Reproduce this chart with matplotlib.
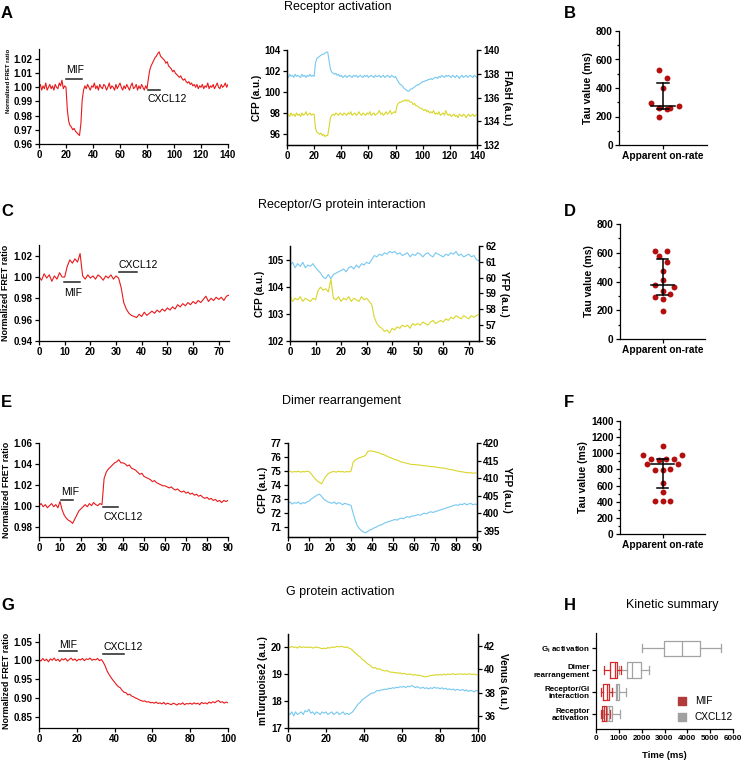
import numpy as np
import matplotlib
matplotlib.use('Agg')
import matplotlib.pyplot as plt
from matplotlib.ticker import MultipleLocator

plt.rcParams['font.family'] = ['Liberation Sans', 'DejaVu Sans']

# ---------------- data (1 s sampling) ----------------
# A: receptor activation
a_fret = [1.000, 1.002, 0.998, 1.001, 0.999, 1.003, 0.998, 1.000, 1.002, 0.999,
          1.001, 0.998, 1.002, 1.000, 0.999, 1.003, 1.001, 1.005, 0.999, 1.001,
          1.000, 0.984, 0.976, 0.973, 0.972, 0.970, 0.971, 0.969, 0.968, 0.967,
          0.966, 0.974, 0.991, 0.998, 1.001, 0.999, 1.002, 1.000, 0.998, 1.001,
          1.000, 1.003, 0.999, 1.001, 0.998, 1.002, 1.000, 0.999, 1.002, 1.001,
          0.998, 1.000, 1.003, 0.999, 1.001, 1.000, 0.998, 1.002, 0.999, 1.001,
          1.003, 1.000, 0.998, 1.001, 0.999, 1.002, 1.000, 0.998, 1.001, 1.003,
          0.999, 1.000, 1.002, 0.998, 1.001, 0.999, 1.002, 1.000, 0.998, 1.001,
          0.999, 1.006, 1.012, 1.015, 1.017, 1.019, 1.021, 1.022, 1.024, 1.025,
          1.022, 1.021, 1.020, 1.019, 1.017, 1.018, 1.015, 1.014, 1.013, 1.011,
          1.012, 1.010, 1.009, 1.008, 1.007, 1.008, 1.006, 1.005, 1.006, 1.004,
          1.003, 1.004, 1.002, 1.003, 1.001, 1.002, 1.000, 1.002, 0.999, 1.001,
          1.000, 1.002, 0.999, 1.001, 1.000, 1.003, 0.999, 1.001, 1.000, 1.002,
          0.999, 1.001, 1.003, 1.000, 0.999, 1.002, 1.000, 1.001, 1.003, 1.000,
          1.002]
a_cfp = [101.6, 101.4, 101.7, 101.5, 101.6, 101.4, 101.7, 101.5, 101.6, 101.5,
         101.4, 101.7, 101.5, 101.6, 101.4, 101.6, 101.5, 101.7, 101.5, 101.6,
         101.5, 102.8, 103.2, 103.3, 103.4, 103.5, 103.6, 103.6, 103.7, 103.8,
         103.8, 103.0, 102.2, 101.9, 101.8, 101.7, 101.8, 101.6, 101.7, 101.5,
         101.6, 101.4, 101.5, 101.6, 101.4, 101.5, 101.6, 101.5, 101.4, 101.6,
         101.5, 101.6, 101.4, 101.5, 101.6, 101.5, 101.4, 101.6, 101.5, 101.6,
         101.4, 101.5, 101.6, 101.5, 101.4, 101.6, 101.5, 101.5, 101.6, 101.4,
         101.5, 101.6, 101.4, 101.5, 101.6, 101.5, 101.4, 101.6, 101.5, 101.4,
         101.5, 101.2, 101.0, 100.8, 100.7, 100.6, 100.4, 100.3, 100.2, 100.1,
         100.1, 100.3, 100.3, 100.4, 100.5, 100.6, 100.7, 100.7, 100.8, 100.9,
         101.0, 101.0, 101.1, 101.1, 101.2, 101.2, 101.3, 101.2, 101.3, 101.4,
         101.4, 101.3, 101.5, 101.4, 101.6, 101.5, 101.4, 101.6, 101.5, 101.6,
         101.5, 101.4, 101.6, 101.5, 101.4, 101.6, 101.5, 101.3, 101.5, 101.6,
         101.4, 101.5, 101.6, 101.4, 101.5, 101.6, 101.5, 101.4, 101.6, 101.5,
         101.4]
a_flash = [134.3, 134.6, 134.4, 134.7, 134.5, 134.6, 134.4, 134.7, 134.5, 134.6,
           134.4, 134.7, 134.5, 134.6, 134.8, 134.5, 134.6, 134.7, 134.5, 134.6,
           134.6, 133.4, 133.1, 133.0, 132.9, 133.0, 132.8, 132.9, 132.7, 132.8,
           132.8, 133.5, 134.3, 134.5, 134.6, 134.5, 134.7, 134.6, 134.5, 134.7,
           134.6, 134.5, 134.7, 134.6, 134.5, 134.7, 134.6, 134.8, 134.5, 134.6,
           134.7, 134.5, 134.6, 134.8, 134.6, 134.5, 134.7, 134.6, 134.5, 134.7,
           134.6, 134.8, 134.5, 134.6, 134.7, 134.5, 134.6, 134.7, 134.9, 134.6,
           134.7, 134.5, 134.6, 134.8, 134.6, 134.7, 134.9, 134.6, 134.7, 134.8,
           134.7, 135.3, 135.5, 135.6, 135.6, 135.7, 135.7, 135.8, 135.7, 135.8,
           135.7, 135.6, 135.6, 135.4, 135.5, 135.3, 135.3, 135.2, 135.1, 135.1,
           135.0, 134.9, 135.0, 134.8, 134.9, 134.7, 134.8, 134.7, 134.9, 134.6,
           134.7, 134.6, 134.8, 134.5, 134.6, 134.7, 134.5, 134.9, 134.6, 134.5,
           134.6, 134.4, 134.5, 134.6, 134.4, 134.5, 134.3, 134.6, 134.5, 134.4,
           134.6, 134.5, 134.3, 134.5, 134.6, 134.4, 134.5, 134.6, 134.4, 134.5,
           134.6]

# C: receptor / G protein interaction
c_fret = [1.000, 0.997, 1.003, 0.999, 1.002, 0.996, 1.001, 0.998, 1.004, 1.000,
          1.000, 1.010, 1.016, 1.013, 1.017, 1.014, 1.022, 1.001, 0.998, 1.002,
          0.999, 1.001, 0.998, 1.002, 1.000, 0.997, 1.001, 0.999, 1.002, 0.998,
          1.001, 0.999, 0.990, 0.976, 0.970, 0.966, 0.964, 0.963, 0.962, 0.965,
          0.963, 0.967, 0.964, 0.966, 0.968, 0.966, 0.969, 0.967, 0.970, 0.968,
          0.971, 0.969, 0.972, 0.970, 0.974, 0.972, 0.975, 0.973, 0.976, 0.974,
          0.977, 0.975, 0.978, 0.976, 0.979, 0.982, 0.977, 0.980, 0.978, 0.981,
          0.979, 0.981, 0.978, 0.982, 0.983]
c_cfp = [104.8, 104.9, 104.7, 104.85, 104.75, 104.9, 104.7, 104.8, 104.75, 104.85,
         104.7, 104.6, 104.5, 104.35, 104.3, 104.45, 104.3, 104.45, 104.5, 104.55,
         104.6, 104.65, 104.55, 104.7, 104.75, 104.65, 104.8, 104.7, 104.85, 104.8,
         104.9, 104.85, 105.0, 105.15, 105.1, 105.2, 105.15, 105.25, 105.2, 105.3,
         105.25, 105.3, 105.2, 105.25, 105.15, 105.2, 105.25, 105.1, 105.2, 105.15,
         105.25, 105.2, 105.1, 105.2, 105.25, 105.15, 105.1, 105.25, 105.2, 105.15,
         105.1, 105.2, 105.15, 105.25, 105.2, 105.3, 105.15, 105.2, 105.1, 105.15,
         105.2, 105.1, 105.15, 105.0, 104.95]
c_yfp = [58.9, 58.5, 58.7, 58.6, 58.8, 58.5, 58.7, 58.6, 58.5, 58.7,
         58.6, 59.2, 59.4, 59.2, 59.3, 59.1, 59.9, 58.7, 58.6, 58.8,
         58.5, 58.7, 58.6, 58.8, 58.5, 58.7, 58.6, 58.5, 58.8, 58.6,
         58.7, 58.5, 58.3, 57.5, 57.1, 56.9, 56.8, 56.6, 56.7, 56.5,
         56.8, 56.7, 56.9, 56.8, 57.0, 56.9, 57.0, 56.8, 57.1, 57.0,
         57.1, 57.0, 57.2, 57.1, 57.0, 57.2, 57.3, 57.1, 57.2, 57.3,
         57.2, 57.4, 57.3, 57.5, 57.4, 57.6, 57.5, 57.4, 57.6, 57.5,
         57.4, 57.6, 57.5, 57.6, 57.7]

# E: dimer rearrangement
e_fret = [1.000, 1.002, 0.999, 1.001, 0.998, 1.000, 1.002, 0.999, 1.001, 0.998,
          1.004, 0.996, 0.991, 0.988, 0.986, 0.985, 0.983, 0.987, 0.991, 0.995,
          0.997, 0.999, 1.001, 0.999, 1.002, 1.000, 1.003, 1.001, 1.000, 1.002,
          1.001, 1.026, 1.032, 1.035, 1.037, 1.039, 1.041, 1.042, 1.044, 1.041,
          1.041, 1.040, 1.038, 1.039, 1.036, 1.035, 1.034, 1.032, 1.030, 1.031,
          1.028, 1.027, 1.026, 1.025, 1.023, 1.024, 1.022, 1.021, 1.020, 1.019,
          1.019, 1.018, 1.017, 1.018, 1.016, 1.015, 1.016, 1.014, 1.013, 1.014,
          1.012, 1.013, 1.011, 1.012, 1.010, 1.011, 1.009, 1.010, 1.008, 1.007,
          1.008, 1.006, 1.007, 1.005, 1.006, 1.004, 1.005, 1.003, 1.005, 1.004,
          1.005]
e_cfp = [72.7, 72.8, 72.65, 72.75, 72.7, 72.8, 72.65, 72.75, 72.7, 72.8,
         72.85, 73.0, 73.1, 73.2, 73.3, 73.35, 73.2, 73.0, 72.9, 72.8,
         72.75, 72.7, 72.8, 72.65, 72.75, 72.7, 72.6, 72.7, 72.65, 72.6,
         72.55, 72.0, 71.5, 71.1, 70.9, 70.75, 70.65, 70.6, 70.7, 70.8,
         70.85, 70.95, 71.0, 71.1, 71.15, 71.2, 71.3, 71.35, 71.4, 71.45,
         71.5, 71.55, 71.5, 71.6, 71.65, 71.6, 71.7, 71.75, 71.7, 71.8,
         71.8, 71.85, 71.9, 71.85, 71.95, 72.0, 71.95, 72.05, 72.1, 72.05,
         72.1, 72.15, 72.2, 72.25, 72.3, 72.35, 72.4, 72.45, 72.5, 72.55,
         72.6, 72.55, 72.65, 72.6, 72.7, 72.6, 72.65, 72.7, 72.6, 72.65,
         72.6]
e_yfp = [411.8, 412.0, 411.7, 411.9, 411.8, 412.0, 411.7, 411.9, 411.8, 412.0,
         411.9, 411.3, 410.5, 409.8, 409.2, 408.8, 408.4, 409.5, 410.5, 411.2,
         411.6, 411.8, 411.9, 411.7, 412.0, 411.8, 411.9, 411.7, 411.9, 411.8,
         412.0, 414.5, 415.2, 415.5, 415.8, 416.0, 416.2, 416.5, 417.6, 417.8,
         417.7, 417.6, 417.4, 417.3, 417.0, 416.8, 416.6, 416.3, 416.0, 415.8,
         415.5, 415.3, 415.1, 414.9, 414.6, 414.5, 414.3, 414.2, 414.0, 413.9,
         413.9, 413.8, 413.8, 413.7, 413.6, 413.5, 413.5, 413.4, 413.3, 413.3,
         413.2, 413.1, 413.0, 412.9, 412.9, 412.8, 412.6, 412.5, 412.4, 412.3,
         412.1, 412.0, 411.9, 411.8, 411.7, 411.6, 411.5, 411.6, 411.4, 411.5,
         411.5]

# G: G protein activation
g_fret = [1.002, 0.998, 1.005, 0.999, 1.003, 0.996, 1.004, 1.000, 1.006, 0.999,
          1.003, 0.997, 1.004, 1.001, 1.005, 0.998, 1.002, 1.006, 1.000, 1.004,
          0.998, 1.003, 1.001, 1.005, 0.999, 1.004, 1.002, 1.006, 1.000, 1.003,
          1.001, 1.005, 0.999, 1.002, 0.995, 0.985, 0.972, 0.963, 0.955, 0.948,
          0.942, 0.935, 0.930, 0.927, 0.920, 0.915, 0.914, 0.908, 0.910, 0.905,
          0.903, 0.900, 0.898, 0.895, 0.893, 0.891, 0.892, 0.889, 0.890, 0.887,
          0.888, 0.886, 0.889, 0.885, 0.887, 0.884, 0.888, 0.883, 0.886, 0.884,
          0.882, 0.886, 0.884, 0.881, 0.885, 0.883, 0.887, 0.882, 0.885, 0.884,
          0.886, 0.883, 0.887, 0.884, 0.886, 0.882, 0.888, 0.885, 0.887, 0.884,
          0.889, 0.886, 0.890, 0.887, 0.891, 0.893, 0.888, 0.890, 0.886, 0.889,
          0.887]
g_turq = [17.55, 17.5, 17.6, 17.45, 17.6, 17.5, 17.55, 17.6, 17.5, 17.65,
          17.6, 17.7, 17.55, 17.6, 17.5, 17.6, 17.55, 17.5, 17.6, 17.55,
          17.6, 17.5, 17.55, 17.6, 17.5, 17.55, 17.6, 17.5, 17.55, 17.6,
          17.5, 17.55, 17.5, 17.55, 17.6, 17.7, 17.8, 17.9, 17.95, 18.05,
          18.1, 18.15, 18.2, 18.25, 18.3, 18.3, 18.35, 18.4, 18.38, 18.42,
          18.42, 18.45, 18.43, 18.48, 18.46, 18.5, 18.48, 18.52, 18.5, 18.54,
          18.52, 18.55, 18.5, 18.56, 18.53, 18.58, 18.55, 18.5, 18.54, 18.5,
          18.48, 18.52, 18.47, 18.5, 18.45, 18.5, 18.47, 18.52, 18.48, 18.5,
          18.46, 18.5, 18.45, 18.48, 18.43, 18.46, 18.42, 18.45, 18.4, 18.44,
          18.42, 18.4, 18.44, 18.38, 18.42, 18.36, 18.4, 18.38, 18.35, 18.4,
          18.38]
g_venus = [41.9, 41.85, 41.95, 41.85, 41.9, 41.8, 41.95, 41.85, 41.9, 41.85,
           41.9, 41.85, 41.9, 41.8, 41.85, 41.9, 41.85, 41.8, 41.75, 41.8,
           41.75, 41.85, 41.8, 41.9, 41.85, 41.9, 41.95, 41.9, 41.95, 41.9,
           41.85, 41.9, 41.8, 41.75, 41.6, 41.45, 41.3, 41.15, 41.05, 40.85,
           40.75, 40.6, 40.45, 40.35, 40.2, 40.1, 40.15, 40.0, 40.05, 39.95,
           39.9, 39.85, 39.9, 39.8, 39.75, 39.75, 39.7, 39.72, 39.65, 39.7,
           39.6, 39.65, 39.6, 39.55, 39.6, 39.55, 39.5, 39.55, 39.48, 39.5,
           39.45, 39.4, 39.35, 39.38, 39.42, 39.45, 39.5, 39.48, 39.55, 39.5,
           39.55, 39.5, 39.58, 39.52, 39.6, 39.55, 39.58, 39.62, 39.55, 39.6,
           39.58, 39.62, 39.56, 39.6, 39.55, 39.62, 39.58, 39.55, 39.6, 39.52,
           39.55]

# stimulus application windows (s) and bar heights
a_mif, a_cxcl = (20, 31.6, 1.006), (80.5, 89.9, 0.998)
c_mif, c_cxcl = (9.9, 15.9, 0.995), (31.1, 38.0, 1.0048)
e_mif, e_cxcl = (10.3, 16.1, 1.0059), (30.7, 37.4, 0.9988)
g_mif, g_cxcl = (10.6, 19.9, 1.026), (34.0, 45.0, 1.016)

# tau values (ms)
b_tau = [525, 469, 403, 296, 273, 263, 252, 258, 193]
b_jit = [-0.09, 0.09, 0.0, -0.28, 0.36, -0.09, 0.09, 0.17, -0.09]
b_med, b_q1, b_q3 = 273, 255, 438
d_tau = [610, 610, 575, 536, 476, 408, 378, 362, 336, 313, 292, 278, 197]
d_jit = [-0.17, 0.10, -0.09, 0.10, 0.0, 0.0, -0.17, 0.27, 0.0, 0.17, -0.17, 0.0, 0.0]
d_med, d_q1, d_q3 = 378, 304, 555
f_tau = [1091, 984, 984, 930, 930, 918, 926, 864, 864, 791, 791, 800, 630, 519, 408, 403, 408]
f_jit = [0.0, -0.45, 0.45, -0.28, 0.27, -0.09, 0.08, -0.36, 0.36, -0.18, 0.0, 0.17, 0.0, 0.0, -0.18, 0.0, 0.17]
f_med, f_q1, f_q3 = 864, 576, 930

# kinetic summary (ms): whislo, q1, med, q3, whishi
h_cats = ['Receptor\nactivation', 'Receptor/Gi\ninteraction', 'Dimer\nrearrangement',
          r'G$_\mathregular{i}$ activation']
h_mif = [[213, 284, 370, 440, 610], [213, 326, 470, 580, 680], [369, 600, 850, 910, 1106], None]
h_cxcl = [[326, 468, 567, 680, 1035], [680, 865, 936, 1007, 1320], [1000, 1350, 1575, 1960, 2312],
          [2028, 2993, 3773, 4553, 5475]]

RED = '#e8191b'
BLUE = '#77c8f0'
YEL = '#d8d62a'
W, H = 744, 763
TICK = 7


def pos(x0, y0, x1, y1):
    return [x0 / W, 1 - y1 / H, (x1 - x0) / W, (y1 - y0) / H]


def style(ax, right=False, size=TICK):
    ax.spines['top'].set_visible(False)
    if not right:
        ax.spines['right'].set_visible(False)
    for s in ax.spines.values():
        s.set_linewidth(0.9)
    ax.tick_params(length=3, width=0.9, labelsize=size, pad=1.5)
    for lab in ax.get_xticklabels() + ax.get_yticklabels():
        lab.set_fontweight('bold')


def fret_panel(rect, y, xmax, xstep, ylim, yticks, mif, cxcl, mif_txt, cxcl_txt, lab_size=6.4, lab_y=0.5):
    ax = fig.add_axes(pos(*rect))
    t = np.arange(len(y))
    ax.plot(t, y, color=RED, lw=0.8)
    ax.set_xlim(0, xmax)
    ax.set_xticks(np.arange(0, xmax + 1, xstep))
    ax.set_ylim(*ylim)
    ax.set_yticks(yticks)
    ax.set_yticklabels(['%.2f' % v for v in yticks])
    ax.set_ylabel('Normalized FRET ratio', fontsize=lab_size, fontweight='bold')
    ax.yaxis.set_label_coords(-0.15, lab_y)
    for t0, t1, yb in (mif, cxcl):
        ax.plot([t0, t1], [yb, yb], color='#222222', lw=1.1)
    ax.text(mif[0], mif_txt[1], mif_txt[0], fontsize=7.5, va='center')
    ax.text(cxcl[0], cxcl_txt[1], cxcl_txt[0], fontsize=7.5, va='center')
    style(ax)
    return ax


def dual_panel(rect, y1, y2, xmax, xstep, ylim1, yt1, ylim2, yt2, lab1, lab2, c1, c2):
    ax = fig.add_axes(pos(*rect))
    t = np.arange(len(y1))
    ax.plot(t, y1, color=c1, lw=0.8)
    ax.set_xlim(0, xmax)
    ax.set_xticks(np.arange(0, xmax + 1, xstep))
    ax.set_ylim(*ylim1)
    ax.set_yticks(yt1)
    ax.set_ylabel(lab1, fontsize=7.2, fontweight='bold', labelpad=2)
    ax2 = ax.twinx()
    ax2.plot(np.arange(len(y2)), y2, color=c2, lw=0.8)
    ax2.set_ylim(*ylim2)
    ax2.set_yticks(yt2)
    ax2.set_ylabel(lab2, fontsize=7.2, fontweight='bold', rotation=270, labelpad=9)
    style(ax, right=True)
    style(ax2, right=True)
    return ax


def tau_panel(rect, vals, jit, med, q1, q3, ymax, ystep):
    ax = fig.add_axes(pos(*rect))
    ax.scatter(jit, vals, s=18, color='#b30f0f', zorder=3, linewidths=0)
    ax.plot([-0.27, 0.27], [med, med], color='black', lw=1.1, zorder=4)
    ax.plot([0, 0], [q1, q3], color='black', lw=1.1, zorder=4)
    ax.plot([-0.13, 0.13], [q1, q1], color='black', lw=1.1, zorder=4)
    ax.plot([-0.13, 0.13], [q3, q3], color='black', lw=1.1, zorder=4)
    ax.set_xlim(-1, 1)
    ax.set_ylim(0, ymax)
    ax.set_yticks(np.arange(0, ymax + 1, ystep))
    ax.yaxis.set_minor_locator(MultipleLocator(ystep / 2))
    ax.tick_params(which='minor', length=1.8, width=0.9)
    ax.set_xticks([0])
    ax.set_xticklabels(['Apparent on-rate'])
    ax.set_ylabel('Tau value (ms)', fontsize=7.5, fontweight='bold', labelpad=2)
    style(ax, size=7.3)
    return ax


fig = plt.figure(figsize=(7.44, 7.63), dpi=100)

# ---- row A ----
fret_panel((39, 49, 228, 144), a_fret, 140, 20, (0.96, 1.027), np.arange(0.96, 1.021, 0.01),
           a_mif, a_cxcl, ('MIF', 1.0125), ('CXCL12', 0.9915), lab_size=4.3, lab_y=0.66)
dual_panel((287, 50, 477, 145), a_cfp, a_flash, 140, 20, (95, 104), [96, 98, 100, 102, 104],
           (132, 140), [132, 134, 136, 138, 140], 'CFP (a.u.)', 'FlAsH (a.u.)', BLUE, YEL)
tau_panel((619, 31, 707, 145), b_tau, b_jit, b_med, b_q1, b_q3, 800, 200)

# ---- row C ----
fret_panel((39, 245, 229, 341), c_fret, 74, 10, (0.94, 1.03), np.arange(0.94, 1.021, 0.02),
           c_mif, c_cxcl, ('MIF', 0.985), ('CXCL12', 1.0115))
dual_panel((290, 246, 479, 341), c_cfp, c_yfp, 74, 10, (102, 105.5), [102, 103, 104, 105],
           (56, 62), [56, 57, 58, 59, 60, 61, 62], 'CFP (a.u.)', 'YFP (a.u.)', BLUE, YEL)
tau_panel((620, 224, 705, 339), d_tau, d_jit, d_med, d_q1, d_q3, 800, 200)

# ---- row E ----
fret_panel((39, 443, 228, 537), e_fret, 90, 10, (0.97, 1.06), np.arange(0.98, 1.061, 0.02),
           e_mif, e_cxcl, ('MIF', 1.013), ('CXCL12', 0.9895))
dual_panel((288, 443, 477, 537), e_cfp, e_yfp, 90, 10, (70.3, 77), [71, 72, 73, 74, 75, 76, 77],
           (393.3, 420), [395, 400, 405, 410, 415, 420], 'CFP (a.u.)', 'YFP (a.u.)', BLUE, YEL)
tau_panel((620, 421, 705, 534), f_tau, f_jit, f_med, f_q1, f_q3, 1400, 200)

# ---- row G ----
fret_panel((39, 634, 228, 728), g_fret, 100, 20, (0.82, 1.07), np.arange(0.85, 1.051, 0.05),
           g_mif, g_cxcl, ('MIF', 1.041), ('CXCL12', 1.036))
dual_panel((288, 634, 478, 728), g_turq, g_venus, 100, 20, (17, 20.5), [17, 18, 19, 20],
           (35, 43), [36, 38, 40, 42], 'mTurquoise2 (a.u.)', 'Venus (a.u.)', BLUE, YEL)

# ---- H: kinetic summary ----
axh = fig.add_axes(pos(596, 633, 733, 729))
keys = ['whislo', 'q1', 'med', 'q3', 'whishi']
ys = np.arange(1, len(h_cats) + 1)
for stats, col in ((h_cxcl, '#a3a3a3'), (h_mif, '#d42a2a')):
    bs, ps = [], []
    for y, s in zip(ys, stats):
        if s is None:
            continue
        d = dict(zip(keys, s))
        d['fliers'] = []
        bs.append(d)
        ps.append(y)
    props = dict(color=col, linewidth=0.9)
    axh.bxp(bs, positions=ps, orientation='horizontal', widths=0.7, showfliers=False,
            boxprops=props, whiskerprops=props, capprops=props, medianprops=props,
            manage_ticks=False)
axh.set_ylim(0.3, 4.7)
axh.set_yticks(ys)
axh.set_yticklabels(h_cats, linespacing=1.1)
axh.set_xlim(0, 6000)
axh.set_xticks(np.arange(0, 6001, 1000))
axh.set_xlabel('Time (ms)', fontsize=6.8, fontweight='bold', labelpad=6)
style(axh, size=5.8)
axh.scatter([], [], marker='s', s=30, color='#b23a3a', label='MIF')
axh.scatter([], [], marker='s', s=30, color='#a0a0a0', label='CXCL12')
axh.legend(loc='lower right', frameon=False, fontsize=7.3, handletextpad=0.2,
           borderaxespad=0.3, labelspacing=0.6, bbox_to_anchor=(1.05, 0.0))

# titles and panel letters
for txt, x, y in (('Receptor activation', 338, 7), ('Receptor/G protein interaction', 342, 205),
                  ('Dimer rearrangement', 341, 401), ('G protein activation', 340, 592),
                  ('Kinetic summary', 672, 605)):
    fig.text(x / W, 1 - y / H, txt, fontsize=9, ha='center', va='center')
for txt, x, y in (('A', 1, 14), ('B', 564, 14), ('C', 1, 211), ('D', 564, 211),
                  ('E', 1, 403), ('F', 564, 403), ('G', 1, 606), ('H', 564, 606)):
    fig.text(x / W, 1 - y / H, txt, fontsize=12, fontweight='bold', ha='left', va='center')

fig.savefig('out.png', dpi=100)
